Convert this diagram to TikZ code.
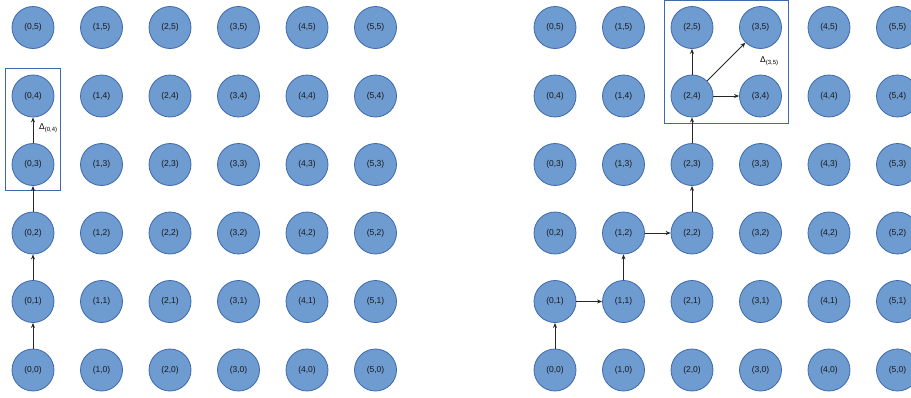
\documentclass[tikz,border=0pt]{standalone}
\usepackage{fontspec}
\setmainfont{Liberation Sans}
\usetikzlibrary{arrows.meta}
\definecolor{cfill}{HTML}{6E9BD0}
\definecolor{cedge}{HTML}{3E69AC}
\tikzset{
  cell/.style={circle, draw=cedge, line width=0.8pt, fill=cfill, minimum size=42pt, inner sep=0pt, font=\fontsize{8.5}{10}\selectfont, text=black!90},
  arr/.style={draw=black!85, line width=0.8pt, -{Stealth[length=5pt,width=4pt]}},
  frame/.style={draw=cedge, line width=0.8pt},
  dlabel/.style={font=\fontsize{8.5}{9}\selectfont, inner sep=0pt, anchor=west}
}
\begin{document}
\begin{tikzpicture}[x=1pt,y=-1pt]
\useasboundingbox (0,0) rectangle (911,397);
\foreach \i in {0,...,5}{
  \foreach \j in {0,...,5}{
    \node[cell] (L\i\j) at ({33+68.5*\i},{370-68.5*\j}) {(\i,\j)};
    \node[cell] (R\i\j) at ({555+68.5*\i},{370-68.5*\j}) {(\i,\j)};
  }
}
% left frame
\draw[frame] (5,68.5) rectangle (60,190.5);
\draw[arr] (L00) -- (L01);
\draw[arr] (L01) -- (L02);
\draw[arr] (L02) -- (L03);
\draw[arr] (L03) -- (L04);
\node[dlabel] (dl) at (39,128) {Δ\textsubscript{(0,4)}};
% right frame
\draw[frame] (664.5,0.5) rectangle (788,123.5);
\draw[arr] (R00) -- (R01);
\draw[arr] (R01) -- (R11);
\draw[arr] (R11) -- (R12);
\draw[arr] (R12) -- (R22);
\draw[arr] (R22) -- (R23);
\draw[arr] (R23) -- (R24);
\draw[arr] (R24) -- (R25);
\draw[arr] (R24) -- (R35);
\draw[arr] (R24) -- (R34);
\node[dlabel] (dr) at (760,61) {Δ\textsubscript{(3,5)}};
\end{tikzpicture}
\end{document}
